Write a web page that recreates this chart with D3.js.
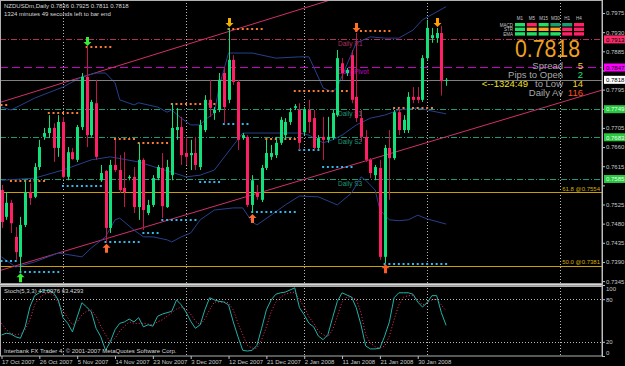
<!DOCTYPE html>
<html>
<head>
<meta charset="utf-8">
<script src="https://cdn.jsdelivr.net/npm/d3@7"></script>
<style>
  body { margin: 0; background: #000; }
  svg { display: block; }
  text { font-family: "Liberation Sans", Arial, sans-serif; }
</style>
</head>
<body>
<svg id="chart" width="625" height="366"></svg>
<script>
// ---- data (NZDUSD daily) ----
var opens = [.7559,.7496,.7529,.7449,.7402,.7477,.7554,.7543,.7613,.7684,
  .7693,.7705,.7658,.7719,.7590,.7648,.7630,.7707,.7825,.7688,
  .7763,.7582,.7604,.7470,.7618,.7606,.7564,.7587,.7590,.7519,
  .7630,.7505,.7524,.7587,.7611,.7519,.7594,.7700,.7707,.7646,
  .7641,.7646,.7613,.7700,.7771,.7740,.7747,.7834,.7771,.7865,
  .7813,.7681,.7684,.7524,.7554,.7536,.7611,.7637,.7641,.7670,
  .7688,.7719,.7752,.7747,.7695,.7747,.7728,.7658,.7684,.7677,
  .7681,.7735,.7857,.7834,.7876,.7778,.7728,.7684,.7630,.7594,
  .7611,.7402,.7658,.7634,.7742,.7700,.7700,.7778,.7778,.7771,
  .7869,.7916,.7916,.7928,.7816];
var highs = [.7571,.7554,.7536,.7472,.7496,.7582,.7575,.7622,.7677,.7705,
  .7735,.7716,.7735,.7731,.7660,.7658,.7712,.7834,.7895,.7771,
  .7818,.7618,.7606,.7630,.7677,.7641,.7648,.7594,.7613,.7670,
  .7634,.7536,.7594,.7618,.7646,.7630,.7763,.7752,.7731,.7684,
  .7677,.7684,.7724,.7782,.7818,.7754,.7834,.7848,.7940,.7876,
  .7818,.7693,.7688,.7594,.7571,.7618,.7677,.7665,.7684,.7731,
  .7728,.7752,.7761,.7763,.7754,.7771,.7747,.7688,.7731,.7731,
  .7747,.7888,.7869,.7846,.7888,.7928,.7747,.7700,.7634,.7618,
  .7630,.7665,.7700,.7747,.7752,.7735,.7789,.7801,.7801,.7876,
  .7959,.7940,.7940,.7945,.7822];
var lows = [.7470,.7489,.7458,.7395,.7366,.7472,.7524,.7540,.7606,.7677,
  .7681,.7625,.7637,.7587,.7582,.7630,.7625,.7700,.7660,.7684,
  .7630,.7578,.7435,.7458,.7601,.7552,.7519,.7582,.7505,.7489,
  .7465,.7500,.7519,.7582,.7493,.7517,.7582,.7677,.7618,.7618,
  .7606,.7606,.7606,.7695,.7731,.7724,.7742,.7716,.7763,.7806,
  .7653,.7677,.7519,.7505,.7536,.7531,.7606,.7630,.7634,.7665,
  .7677,.7712,.7747,.7653,.7688,.7693,.7653,.7653,.7630,.7670,
  .7677,.7731,.7818,.7827,.7763,.7719,.7672,.7625,.7587,.7582,
  .7395,.7387,.7536,.7630,.7688,.7693,.7693,.7763,.7763,.7766,
  .7865,.7905,.7905,.7781,.7804];
var closes = [.7484,.7529,.7481,.7413,.7477,.7554,.7540,.7613,.7660,.7693,
  .7705,.7658,.7719,.7590,.7648,.7632,.7707,.7825,.7688,.7766,
  .7637,.7599,.7470,.7618,.7606,.7559,.7554,.7590,.7519,.7630,
  .7512,.7524,.7587,.7613,.7521,.7613,.7705,.7707,.7641,.7637,
  .7646,.7618,.7712,.7771,.7752,.7747,.7818,.7754,.7865,.7813,
  .7677,.7688,.7524,.7582,.7543,.7611,.7646,.7646,.7670,.7724,
  .7719,.7742,.7756,.7670,.7749,.7719,.7658,.7681,.7677,.7684,
  .7740,.7869,.7834,.7841,.7771,.7728,.7684,.7630,.7599,.7613,
  .7402,.7658,.7634,.7742,.7700,.7724,.7778,.7771,.7771,.7869,
  .7940,.7923,.7928,.7815,.7818];

// Bollinger bands, [bar, price]
var bbUpper = [[0,.7754],[2,.7747],[7,.7775],[13,.7801],[17,.7825],[20,.7834],[22,.7834],[24,.7811],
  [25,.7771],[28,.7759],[29,.7764],[33,.7754],[35,.7742],[36,.7747],[38,.7728],[40,.7712],[42,.7712],
  [43,.7724],[45,.7740],[46,.7801],[48,.7881],[53,.7881],[58,.7869],[63,.7872],[65,.7872],[66,.7848],
  [68,.7799],[70,.7789],[71,.7801],[73,.7853],[75,.7905],[78,.7919],[81,.7916],[84,.7916],[87,.7935],
  [89,.7959],[94,.7990]];
var bbMiddle = [[0,.7582],[7,.7587],[13,.7606],[19,.7630],[23,.7637],[29,.7625],[33,.7611],[36,.7601],
  [39,.7590],[42,.7594],[45,.7606],[51,.7693],[57,.7693],[63,.7693],[65,.7688],[68,.7670],[70,.7677],
  [72,.7688],[75,.7712],[78,.7728],[81,.7735],[84,.7747],[88,.7752],[90,.7747],[94,.7738]];
var bbLower = [[0,.7402],[3,.7378],[7,.7390],[12,.7411],[17,.7402],[19,.7423],[22,.7449],[24,.7489],
  [25,.7493],[28,.7465],[30,.7449],[32,.7449],[35,.7442],[36,.7437],[38,.7449],[40,.7458],[42,.7489],
  [45,.7512],[49,.7517],[51,.7517],[53,.7484],[54,.7477],[57,.7500],[60,.7524],[63,.7545],[67,.7543],
  [71,.7524],[74,.7552],[76,.7590],[77,.7582],[79,.7559],[80,.7512],[82,.7489],[84,.7487],[86,.7489],
  [88,.7500],[90,.7491],[94,.7479]];

// Stochastic (5,3,3)
var stochK = [29.6,32,31,27,25,41,69,85,89,93, 92,89,79,54,46,34,55,75,69,62,
  39,27,8,20,37,46,48,52,48,54, 41,44,42,56,59,61,63,79,72,62,
  49,39,44,65,82,79,77,76,72,48, 27,8,7,8,15,39,65,79,87,89,
  90,93,96,68,58,46,41,28,23,30, 54,77,89,86,83,68,44,14,10,10,
  11,28,48,82,89,89,89,87,76,69, 75,85,85,61,43.0976];
var stochD = [46,37,32,30,31,37,51,72,82,87, 89,86,75,63,54,44,48,58,63,65,
  56,42,30,20,25,35,42,48,46,46, 46,45,44,48,51,56,61,66,69,66,
  59,49,44,52,65,76,76,76,75,65, 46,30,15,11,11,23,41,62,76,83,
  87,89,90,79,69,55,46,35,30,27, 37,56,76,83,83,80,61,30,18,13,
  11,14,28,51,72,83,85,85,79,72, 75,79,80,72,63.4293];

// fractal levels [fromBar, toBar, price]
var resistLevels = [[0,1,.7759],[2,9,.7580],[10,17,.7740],[18,23,.7895],[24,28,.7679],[29,35,.7670],
  [36,46,.7761],[48,55,.7937],[56,62,.7679],[62,73,.7792],[75,82,.7933],[83,91,.7752]];
var supportLevels = [[0,3,.7392],[4,12,.7366],[13,21,.7569],[22,29,.7437],[30,33,.7458],[34,41,.7489],
  [42,46,.7578],[47,52,.7714],[53,62,.7507],[63,67,.7653],[68,74,.7613],[81,94,.7385]];
var fractalArrows = [[4,'up','#33ee33'],[18,'down','#33ee33'],[22,'up','#ff6a30'],[48,'down','#f0b000'],
  [53,'up','#ff6a30'],[75,'down','#ff7020'],[81,'up','#ff5a20'],[92,'down','#ffa000']];

// trendlines [bar, price] pairs
var upperChannel = [[0,.7766],[56,.7959]];
var lowerChannel = [[0,.7371],[127,.7794]];

// pivots
var pivotNames = ['Daily R1','Daily Pivot','Daily S1','Daily S2','Daily S3'];
var pivotValues = [.7913,.7847,.7749,.7683,.7585];
var pivotColors = ['#b03060','#c800c8','#1f9a78','#1f9a78','#1f9a78'];
var pivotBoxColors = ['#ff2a6a','#ff00ff','#28c840','#28c840','#28c840'];

var fibLabels = ['61.8 @0.7554','50.0 @0.7381'];
var fibValues = [.7554,.7381];

var bidPrice = 0.7818;
var priceTicks = [.7975,.7930,.7885,.7840,.7795,.7750,.7705,.7660,.7615,.7570,.7525,.7480,.7435,.7390,.7345];
var stochTicks = [100,80,20,0];
var dateBars = [0,8,16,24,32,40,48,56,64,72,80,88];
var dateLabels = ['17 Oct 2007','26 Oct 2007','5 Nov 2007','14 Nov 2007','23 Nov 2007','3 Dec 2007',
  '12 Dec 2007','21 Dec 2007','2 Jan 2008','11 Jan 2008','21 Jan 2008','30 Jan 2008'];
var monthBars = [13,39,64,90,118];

var tfLabels = ['M1','M5','M15','M30','H1','H4'];
var trendRows = ['MACD','STR','EMA'];
var trendState = [['g','r','g','d','d','r'],['g','o','o','o','r','r'],['g','g','g','g','r','r']];
var infoNames = ['Spread','Pips to Open','to Low','Daily Av'];
var infoValues = ['5','2','14','116'];
var infoColors = ['#f0d020','#20e070','#f0d020','#ff5020'];

// ---- layout ----
var width = 625, height = 366;
var plotRight = 602;
var font = '"Liberation Sans", Arial, sans-serif';
var svg = d3.select('#chart');
svg.append('rect').attr('width', width).attr('height', height).attr('fill', '#000');

var x = d3.scaleLinear().domain([0, 94]).range([1.5, 1.5 + 4.73 * 94]);
var y = d3.scaleLinear().domain([0.73382, 0.80056]).range([284, 0]);
var ys = d3.scaleLinear().domain([0, 100]).range([356, 285]);

var defs = svg.append('defs');
defs.append('clipPath').attr('id', 'clipMain').append('rect')
  .attr('x', 0).attr('y', 0).attr('width', plotRight).attr('height', 283);
defs.append('clipPath').attr('id', 'clipStoch').append('rect')
  .attr('x', 0).attr('y', 286).attr('width', plotRight).attr('height', 70);

// grid (month starts)
svg.selectAll('.vgrid').data(monthBars).enter().append('line')
  .attr('x1', function (d) { return Math.round(x(d)) + 0.5; })
  .attr('x2', function (d) { return Math.round(x(d)) + 0.5; })
  .attr('y1', 0).attr('y2', 356)
  .attr('stroke', '#b8b8b8').attr('stroke-dasharray', '1,2');

var main = svg.append('g').attr('clip-path', 'url(#clipMain)');

// fib levels
main.selectAll('.fib').data(fibValues).enter().append('line')
  .attr('x1', 0).attr('x2', plotRight)
  .attr('y1', function (d) { return Math.round(y(d)) + 0.5; })
  .attr('y2', function (d) { return Math.round(y(d)) + 0.5; })
  .attr('stroke', '#c8a000');
main.selectAll('.fibtxt').data(fibValues).enter().append('text')
  .attr('x', 600).attr('y', function (d) { return y(d) - 1.5; })
  .attr('text-anchor', 'end').attr('font-size', '6px').attr('fill', '#d4ac00')
  .text(function (d, i) { return fibLabels[i]; });

// pivot lines
main.selectAll('.piv').data(pivotValues).enter().append('line')
  .attr('x1', 0).attr('x2', plotRight)
  .attr('y1', function (d) { return Math.round(y(d)) + 0.5; })
  .attr('y2', function (d) { return Math.round(y(d)) + 0.5; })
  .attr('stroke', function (d, i) { return pivotColors[i]; })
  .attr('stroke-dasharray', function (d, i) { return i === 1 ? '8,4' : '6,2,1,2'; });
main.selectAll('.pivtxt').data(pivotValues).enter().append('text')
  .attr('x', 338).attr('y', function (d) { return y(d) + 7; })
  .attr('font-size', '6.5px')
  .attr('fill', function (d, i) { return pivotColors[i]; })
  .text(function (d, i) { return pivotNames[i]; });

// channel lines
function channel(pts) {
  var slope = (pts[1][1] - pts[0][1]) / (pts[1][0] - pts[0][0]);
  return [[-2, pts[0][1] + slope * (-2 - pts[0][0])], [130, pts[0][1] + slope * (130 - pts[0][0])]];
}
var lineGen = d3.line().x(function (d) { return x(d[0]); }).y(function (d) { return y(d[1]); });
[upperChannel, lowerChannel].forEach(function (c) {
  main.append('path').attr('d', lineGen(channel(c)))
    .attr('fill', 'none').attr('stroke', '#d0306a').attr('stroke-width', 1);
});

// bollinger bands
[bbUpper, bbMiddle, bbLower].forEach(function (b) {
  main.append('path').attr('d', lineGen(b))
    .attr('fill', 'none').attr('stroke', '#27408c').attr('stroke-width', 1);
});

// fractal dotted levels
function levelDots(levels, color) {
  levels.forEach(function (lv) {
    var bars = d3.range(lv[0], lv[1] + 1);
    main.selectAll(null).data(bars).enter().append('rect')
      .attr('x', function (d) { return x(d) - 1; })
      .attr('y', Math.round(y(lv[2])) - 1)
      .attr('width', 2).attr('height', 2)
      .attr('fill', color);
  });
}
levelDots(resistLevels, '#ff7a30');
levelDots(supportLevels, '#30b8f0');

// bid line
main.append('line').attr('x1', 0).attr('x2', plotRight)
  .attr('y1', Math.round(y(bidPrice)) + 0.5).attr('y2', Math.round(y(bidPrice)) + 0.5)
  .attr('stroke', '#808080');

// candles
var bull = '#12e07a', bear = '#ff1f66';
var idx = d3.range(opens.length);
main.selectAll('.wick').data(idx).enter().append('line')
  .attr('x1', function (i) { return Math.round(x(i)) + 0.5; })
  .attr('x2', function (i) { return Math.round(x(i)) + 0.5; })
  .attr('y1', function (i) { return y(highs[i]); })
  .attr('y2', function (i) { return y(lows[i]); })
  .attr('stroke', function (i) { return closes[i] >= opens[i] ? bull : '#c0184e'; });
main.selectAll('.body').data(idx).enter().append('rect')
  .attr('x', function (i) { return Math.round(x(i)) - 1; })
  .attr('y', function (i) { return y(Math.max(opens[i], closes[i])); })
  .attr('width', 3)
  .attr('height', function (i) { return Math.max(1, Math.abs(y(opens[i]) - y(closes[i]))); })
  .attr('fill', function (i) { return closes[i] >= opens[i] ? bull : bear; });

// fractal arrows
fractalArrows.forEach(function (a) {
  var cx = Math.round(x(a[0])) + 0.5;
  var tip, dir;
  if (a[1] === 'up') { tip = y(lows[a[0]]) + 1; dir = 1; } else { tip = y(highs[a[0]]) - 1; dir = -1; }
  var p = d3.path();
  p.moveTo(cx, tip);
  p.lineTo(cx + 4, tip + 4 * dir);
  p.lineTo(cx + 1.5, tip + 4 * dir);
  p.lineTo(cx + 1.5, tip + 9 * dir);
  p.lineTo(cx - 1.5, tip + 9 * dir);
  p.lineTo(cx - 1.5, tip + 4 * dir);
  p.lineTo(cx - 4, tip + 4 * dir);
  p.closePath();
  main.append('path').attr('d', p.toString()).attr('fill', a[2]);
});

// ---- stochastic panel ----
var stoch = svg.append('g').attr('clip-path', 'url(#clipStoch)');
[80, 20].forEach(function (lv) {
  stoch.append('line').attr('x1', 0).attr('x2', plotRight)
    .attr('y1', Math.round(ys(lv)) + 0.5).attr('y2', Math.round(ys(lv)) + 0.5)
    .attr('stroke', '#b8b8b8').attr('stroke-dasharray', '1,2');
});
var sLine = d3.line().x(function (d, i) { return x(i); }).y(function (d) { return ys(d); });
stoch.append('path').attr('d', sLine(stochD)).attr('fill', 'none')
  .attr('stroke', '#ff2a55').attr('stroke-dasharray', '1,2');
stoch.append('path').attr('d', sLine(stochK)).attr('fill', 'none')
  .attr('stroke', '#20b2aa');

// ---- frames ----
svg.append('rect').attr('x', 0.5).attr('y', 0.5).attr('width', plotRight - 0.5).attr('height', 283)
  .attr('fill', 'none').attr('stroke', '#b0b0b0');
svg.append('rect').attr('x', 0).attr('y', 283).attr('width', plotRight).attr('height', 3).attr('fill', '#9a9a9a');
svg.append('line').attr('x1', 0).attr('x2', plotRight).attr('y1', 284.5).attr('y2', 284.5).attr('stroke', '#d8d8d8');
svg.append('rect').attr('x', 0.5).attr('y', 286.5).attr('width', plotRight - 0.5).attr('height', 69.5)
  .attr('fill', 'none').attr('stroke', '#b0b0b0');

// price axis (labels under the coloured boxes are hidden, as in the terminal)
var boxPrices = pivotValues.concat([bidPrice]);
var pAxis = svg.append('g').attr('transform', 'translate(' + plotRight + ',0)')
  .call(d3.axisRight(y).tickValues(priceTicks).tickSize(3).tickFormat(d3.format('.4f')));
pAxis.select('.domain').attr('stroke', '#c0c0c0').attr('d', 'M0.5,0V357');
pAxis.selectAll('line').attr('stroke', '#c0c0c0');
pAxis.selectAll('text').attr('fill', '#c8c8c8').attr('font-size', '6px')
  .attr('font-family', font).attr('x', 4)
  .style('display', function (d) {
    var hit = boxPrices.some(function (b) { return Math.abs(y(b) - y(d)) < 7; });
    return hit ? 'none' : null;
  });

// coloured price boxes
var boxes = pivotValues.map(function (v, i) { return [v, pivotBoxColors[i], i < 2 ? '#000' : '#eaffea']; });
boxes.push([bidPrice, '#ffffff', '#000']);
boxes.forEach(function (b) {
  var cy = y(b[0]);
  svg.append('rect').attr('x', 604).attr('y', cy - 4).attr('width', 21).attr('height', 8).attr('fill', b[1]);
  svg.append('text').attr('x', 606).attr('y', cy + 2.3).attr('font-size', '6px').attr('fill', b[2])
    .text(d3.format('.4f')(b[0]));
});

// stochastic axis
var sAxis = svg.append('g').attr('transform', 'translate(' + plotRight + ',0)')
  .call(d3.axisRight(ys).tickValues(stochTicks).tickSize(3));
sAxis.select('.domain').remove();
sAxis.selectAll('line').attr('stroke', '#c0c0c0');
sAxis.selectAll('text').attr('fill', '#c8c8c8').attr('font-size', '6px')
  .attr('font-family', font).attr('x', 4)
  .attr('dy', function (d) { return d === 100 ? '0.9em' : (d === 0 ? '-0.3em' : '0.32em'); });

// date axis
var dAxis = svg.append('g').attr('transform', 'translate(0,356)')
  .call(d3.axisBottom(x).tickValues(dateBars).tickSize(3)
    .tickFormat(function (d, i) { return dateLabels[i]; }));
dAxis.select('.domain').remove();
dAxis.selectAll('line').attr('stroke', '#c0c0c0');
dAxis.selectAll('text').attr('fill', '#c8c8c8').attr('font-size', '6px')
  .attr('font-family', font)
  .attr('text-anchor', 'start').attr('x', 0).attr('y', 3).attr('dy', '0.8em');

// ---- texts ----
svg.append('text').attr('x', 4).attr('y', 8).attr('font-size', '6px').attr('fill', '#d8d8d8')
  .text('NZDUSDm,Daily  0.7836 0.7925 0.7811 0.7818');
svg.append('text').attr('x', 4).attr('y', 15.5).attr('font-size', '6px').attr('fill', '#d8d8d8')
  .text('1324 minutes 49 seconds left to bar end');
svg.append('text').attr('x', 4).attr('y', 293).attr('font-size', '6px').attr('fill', '#d8d8d8')
  .text('Stoch(5,3,3) 43.0976 63.4293');
svg.append('text').attr('x', 4).attr('y', 353).attr('font-size', '6px').attr('fill', '#d8d8d8')
  .text('Interbank FX Trader 4, \u00a9 2001-2007 MetaQuotes Software Corp.');

// trend matrix
var stateColor = { g: '#22dd66', r: '#ff2266', o: '#ffa020', d: '#14a070' };
svg.selectAll('.tf').data(tfLabels).enter().append('text')
  .attr('x', function (d, i) { return 520 + i * 11.8; }).attr('y', 20)
  .attr('text-anchor', 'middle').attr('font-size', '4.5px').attr('fill', '#c8c8c8')
  .text(function (d) { return d; });
trendRows.forEach(function (r, ri) {
  svg.append('text').attr('x', 513).attr('y', 26.5 + ri * 4.6).attr('text-anchor', 'end')
    .attr('font-size', '4.5px').attr('fill', '#c8c8c8').text(r);
  trendState[ri].forEach(function (s, ci) {
    svg.append('rect').attr('x', 515 + ci * 11.8).attr('y', 23 + ri * 4.6)
      .attr('width', 10).attr('height', 3.4).attr('fill', stateColor[s]);
  });
});

svg.append('text').attr('x', 580).attr('y', 57).attr('text-anchor', 'end')
  .attr('font-size', '24px').attr('fill', '#f0a020')
  .attr('textLength', 65).attr('lengthAdjust', 'spacingAndGlyphs')
  .text(d3.format('.4f')(bidPrice));

var infoY = [68.5, 77.5, 87, 96];
infoNames.forEach(function (n, i) {
  svg.append('text').attr('x', 563).attr('y', infoY[i]).attr('text-anchor', 'end')
    .attr('font-size', '9.5px').attr('fill', '#a8a8a8').text(n);
  svg.append('text').attr('x', 583).attr('y', infoY[i]).attr('text-anchor', 'end')
    .attr('font-size', '9.5px').attr('fill', infoColors[i]).text(infoValues[i]);
});
svg.append('text').attr('x', 528).attr('y', infoY[2]).attr('text-anchor', 'end')
  .attr('font-size', '9.5px').attr('fill', '#f0e020').text('<--1324:49');
</script>
</body>
</html>
